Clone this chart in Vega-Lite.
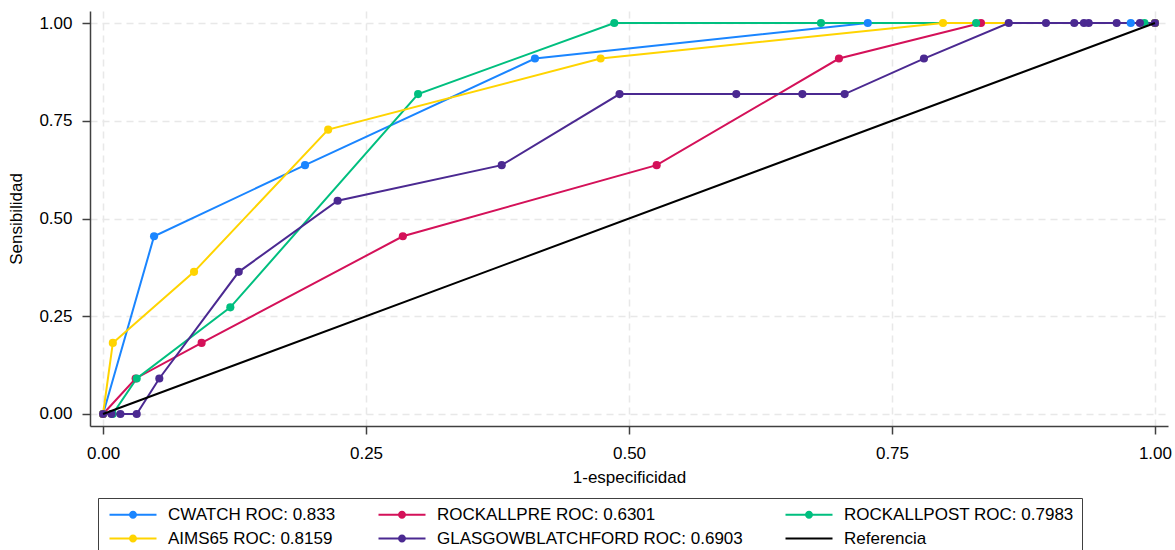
{
  "$schema": "https://vega.github.io/schema/vega-lite/v6.json",
  "width": 1078,
  "height": 415,
  "autosize": {"type": "none"},
  "padding": {"left": 90, "top": 11, "right": 7, "bottom": 124},
  "background": "white",
  "data": {
    "values": [
      {"modelo": "CWATCH ROC: 0.833", "i": 1, "fpr": 0, "sens": 0},
      {"modelo": "CWATCH ROC: 0.833", "i": 2, "fpr": 0.0485, "sens": 0.4545},
      {"modelo": "CWATCH ROC: 0.833", "i": 3, "fpr": 0.192, "sens": 0.6364},
      {"modelo": "CWATCH ROC: 0.833", "i": 4, "fpr": 0.4106, "sens": 0.9091},
      {"modelo": "CWATCH ROC: 0.833", "i": 5, "fpr": 0.727, "sens": 1},
      {"modelo": "CWATCH ROC: 0.833", "i": 6, "fpr": 0.977, "sens": 1},
      {"modelo": "CWATCH ROC: 0.833", "i": 7, "fpr": 1, "sens": 1},

      {"modelo": "ROCKALLPRE ROC: 0.6301", "i": 1, "fpr": 0, "sens": 0},
      {"modelo": "ROCKALLPRE ROC: 0.6301", "i": 2, "fpr": 0.031, "sens": 0.0909},
      {"modelo": "ROCKALLPRE ROC: 0.6301", "i": 3, "fpr": 0.0937, "sens": 0.1818},
      {"modelo": "ROCKALLPRE ROC: 0.6301", "i": 4, "fpr": 0.285, "sens": 0.4545},
      {"modelo": "ROCKALLPRE ROC: 0.6301", "i": 5, "fpr": 0.5263, "sens": 0.6364},
      {"modelo": "ROCKALLPRE ROC: 0.6301", "i": 6, "fpr": 0.6996, "sens": 0.9091},
      {"modelo": "ROCKALLPRE ROC: 0.6301", "i": 7, "fpr": 0.8346, "sens": 1},
      {"modelo": "ROCKALLPRE ROC: 0.6301", "i": 8, "fpr": 1, "sens": 1},

      {"modelo": "ROCKALLPOST ROC: 0.7983", "i": 1, "fpr": 0, "sens": 0},
      {"modelo": "ROCKALLPOST ROC: 0.7983", "i": 2, "fpr": 0.0092, "sens": 0},
      {"modelo": "ROCKALLPOST ROC: 0.7983", "i": 3, "fpr": 0.032, "sens": 0.0909},
      {"modelo": "ROCKALLPOST ROC: 0.7983", "i": 4, "fpr": 0.121, "sens": 0.2727},
      {"modelo": "ROCKALLPOST ROC: 0.7983", "i": 5, "fpr": 0.2995, "sens": 0.8182},
      {"modelo": "ROCKALLPOST ROC: 0.7983", "i": 6, "fpr": 0.486, "sens": 1},
      {"modelo": "ROCKALLPOST ROC: 0.7983", "i": 7, "fpr": 0.6825, "sens": 1},
      {"modelo": "ROCKALLPOST ROC: 0.7983", "i": 8, "fpr": 0.83, "sens": 1},
      {"modelo": "ROCKALLPOST ROC: 0.7983", "i": 9, "fpr": 0.99, "sens": 1},
      {"modelo": "ROCKALLPOST ROC: 0.7983", "i": 10, "fpr": 1, "sens": 1},

      {"modelo": "AIMS65 ROC: 0.8159", "i": 1, "fpr": 0, "sens": 0},
      {"modelo": "AIMS65 ROC: 0.8159", "i": 2, "fpr": 0.0093, "sens": 0.1818},
      {"modelo": "AIMS65 ROC: 0.8159", "i": 3, "fpr": 0.0865, "sens": 0.3636},
      {"modelo": "AIMS65 ROC: 0.8159", "i": 4, "fpr": 0.214, "sens": 0.7273},
      {"modelo": "AIMS65 ROC: 0.8159", "i": 5, "fpr": 0.473, "sens": 0.9091},
      {"modelo": "AIMS65 ROC: 0.8159", "i": 6, "fpr": 0.7985, "sens": 1},
      {"modelo": "AIMS65 ROC: 0.8159", "i": 7, "fpr": 1, "sens": 1},

      {"modelo": "GLASGOWBLATCHFORD ROC: 0.6903", "i": 1, "fpr": 0, "sens": 0},
      {"modelo": "GLASGOWBLATCHFORD ROC: 0.6903", "i": 2, "fpr": 0.008, "sens": 0},
      {"modelo": "GLASGOWBLATCHFORD ROC: 0.6903", "i": 3, "fpr": 0.0165, "sens": 0},
      {"modelo": "GLASGOWBLATCHFORD ROC: 0.6903", "i": 4, "fpr": 0.032, "sens": 0},
      {"modelo": "GLASGOWBLATCHFORD ROC: 0.6903", "i": 5, "fpr": 0.0535, "sens": 0.0909},
      {"modelo": "GLASGOWBLATCHFORD ROC: 0.6903", "i": 6, "fpr": 0.129, "sens": 0.3636},
      {"modelo": "GLASGOWBLATCHFORD ROC: 0.6903", "i": 7, "fpr": 0.223, "sens": 0.5455},
      {"modelo": "GLASGOWBLATCHFORD ROC: 0.6903", "i": 8, "fpr": 0.379, "sens": 0.6364},
      {"modelo": "GLASGOWBLATCHFORD ROC: 0.6903", "i": 9, "fpr": 0.491, "sens": 0.8182},
      {"modelo": "GLASGOWBLATCHFORD ROC: 0.6903", "i": 10, "fpr": 0.602, "sens": 0.8182},
      {"modelo": "GLASGOWBLATCHFORD ROC: 0.6903", "i": 11, "fpr": 0.6648, "sens": 0.8182},
      {"modelo": "GLASGOWBLATCHFORD ROC: 0.6903", "i": 12, "fpr": 0.705, "sens": 0.8182},
      {"modelo": "GLASGOWBLATCHFORD ROC: 0.6903", "i": 13, "fpr": 0.7804, "sens": 0.9091},
      {"modelo": "GLASGOWBLATCHFORD ROC: 0.6903", "i": 14, "fpr": 0.861, "sens": 1},
      {"modelo": "GLASGOWBLATCHFORD ROC: 0.6903", "i": 15, "fpr": 0.8964, "sens": 1},
      {"modelo": "GLASGOWBLATCHFORD ROC: 0.6903", "i": 16, "fpr": 0.9233, "sens": 1},
      {"modelo": "GLASGOWBLATCHFORD ROC: 0.6903", "i": 17, "fpr": 0.9325, "sens": 1},
      {"modelo": "GLASGOWBLATCHFORD ROC: 0.6903", "i": 18, "fpr": 0.937, "sens": 1},
      {"modelo": "GLASGOWBLATCHFORD ROC: 0.6903", "i": 19, "fpr": 0.9636, "sens": 1},
      {"modelo": "GLASGOWBLATCHFORD ROC: 0.6903", "i": 20, "fpr": 0.9857, "sens": 1},
      {"modelo": "GLASGOWBLATCHFORD ROC: 0.6903", "i": 21, "fpr": 1, "sens": 1},

      {"modelo": "Referencia", "i": 1, "fpr": 0, "sens": 0},
      {"modelo": "Referencia", "i": 2, "fpr": 1, "sens": 1}
    ]
  },
  "encoding": {
    "x": {
      "field": "fpr",
      "type": "quantitative",
      "scale": {"domain": [-0.0124, 1.0124], "nice": false, "zero": false},
      "axis": {
        "title": "1-especificidad",
        "values": [0, 0.25, 0.5, 0.75, 1],
        "format": ".2f",
        "labelPadding": 11,
        "titlePadding": 8
      }
    },
    "y": {
      "field": "sens",
      "type": "quantitative",
      "scale": {"domain": [-0.0307, 1.0307], "nice": false, "zero": false},
      "axis": {
        "title": "Sensibilidad",
        "values": [0, 0.25, 0.5, 0.75, 1],
        "format": ".2f",
        "labelPadding": 10,
        "titlePadding": 13
      }
    },
    "color": {
      "field": "modelo",
      "type": "nominal",
      "scale": {
        "domain": [
          "CWATCH ROC: 0.833",
          "AIMS65 ROC: 0.8159",
          "ROCKALLPRE ROC: 0.6301",
          "GLASGOWBLATCHFORD ROC: 0.6903",
          "ROCKALLPOST ROC: 0.7983",
          "Referencia"
        ],
        "range": ["#1a85ff", "#ffd400", "#d41159", "#4b2991", "#00bf7f", "#000000"]
      },
      "legend": {
        "orient": "none",
        "legendX": 8,
        "legendY": 487,
        "columns": 3,
        "title": null,
        "symbolSize": 100,
        "labelFontSize": 17,
        "labelColor": "#000000",
        "labelOffset": 45,
        "labelLimit": 400,
        "columnPadding": 39,
        "rowPadding": 6,
        "padding": 8,
        "strokeColor": "#404040",
        "fillColor": "white",
        "encode": {
          "symbols": {
            "update": {
              "shape": {"signal": "datum.value === 'Referencia' ? 'M-1,-0.2H8.4V0.2H-1Z' : 'M-1,-0.2H8.4V0.2H-1Z M4.5,0A0.8,0.8,0,1,1,2.9,0A0.8,0.8,0,1,1,4.5,0Z'"},
              "fill": {"scale": "color", "field": "value"},
              "stroke": {"value": "transparent"},
              "strokeWidth": {"value": 0},
              "opacity": {"value": 1}
            }
          }
        }
      }
    }
  },
  "layer": [
    {
      "transform": [{"filter": "datum.modelo !== 'Referencia'"}],
      "mark": {"type": "line", "strokeWidth": 2},
      "encoding": {"order": {"field": "i", "type": "quantitative"}}
    },
    {
      "transform": [{"filter": "datum.modelo !== 'Referencia'"}],
      "mark": {"type": "point", "filled": true, "size": 66, "opacity": 1, "strokeWidth": 0}
    },
    {
      "transform": [{"filter": "datum.modelo === 'Referencia'"}],
      "mark": {"type": "line", "strokeWidth": 2},
      "encoding": {"order": {"field": "i", "type": "quantitative"}}
    }
  ],
  "config": {
    "view": {"stroke": null},
    "font": "Liberation Sans",
    "axis": {
      "domainColor": "#404040",
      "domainWidth": 1.5,
      "tickColor": "#404040",
      "tickWidth": 1.5,
      "tickSize": 8,
      "labelFontSize": 17,
      "labelColor": "#000000",
      "titleFontSize": 17,
      "titleFontWeight": "normal",
      "titleColor": "#000000",
      "gridColor": "#e8e8e8",
      "gridDash": [7, 5],
      "gridWidth": 1.5
    }
  }
}
